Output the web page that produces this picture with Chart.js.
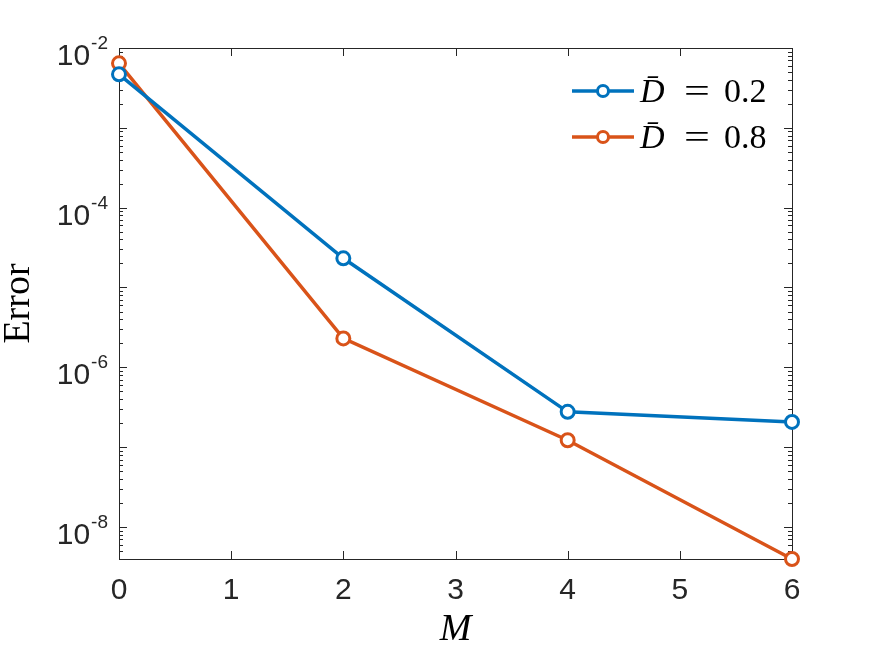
<!DOCTYPE html>
<html>
<head>
<meta charset="utf-8">
<script src="https://cdn.jsdelivr.net/npm/chart.js@4/dist/chart.umd.min.js"></script>
<style>
  html, body { margin: 0; padding: 0; background: #ffffff; }
  canvas { display: block; }
</style>
</head>
<body>
<canvas id="c" width="875" height="657"></canvas>
<script>
// ---- data ----
const xValues = [0, 2, 4, 6];
const errD02 = [4.68e-3, 2.32e-5, 2.77e-7, 2.07e-7];
const errD08 = [6.43e-3, 2.30e-6, 1.22e-7, 3.97e-9];
const seriesLabels = ['D\u0304 = 0.2', 'D\u0304 = 0.8'];
const seriesColors = ['#0072BD', '#D95319'];
const xTickValues = [0, 1, 2, 3, 4, 5, 6];
const yMajorExponents = [-2, -4, -6, -8];
const xTitle = 'M';
const yTitle = 'Error';

const AX = '#262626';
const yMin = Math.min(...errD02, ...errD08);
const yMax = 1e-2;

function mkSet(label, values, color) {
  return {
    label: label,
    data: xValues.map((x, i) => ({ x: x, y: values[i] })),
    borderColor: color,
    backgroundColor: color,
    borderWidth: 3.5,
    pointRadius: 6.5,
    pointHoverRadius: 6.5,
    pointBorderWidth: 3,
    pointBorderColor: color,
    pointBackgroundColor: '#ffffff',
    tension: 0,
    clip: false
  };
}

const axesPlugin = {
  id: 'matlabAxes',
  beforeDatasetsDraw(chart) {
    const { ctx, chartArea: ca, scales: { x, y } } = chart;
    ctx.save();
    ctx.strokeStyle = AX;
    ctx.lineWidth = 1;
    // frame
    ctx.strokeRect(Math.round(ca.left) + 0.5, Math.round(ca.top) + 0.5,
                   Math.round(ca.right - ca.left), Math.round(ca.bottom - ca.top));
    ctx.beginPath();
    // x ticks (inward, bottom and top)
    xTickValues.forEach(v => {
      const px = Math.round(x.getPixelForValue(v)) + 0.5;
      ctx.moveTo(px, ca.bottom); ctx.lineTo(px, ca.bottom - 8);
      ctx.moveTo(px, ca.top); ctx.lineTo(px, ca.top + 8);
    });
    // y ticks (log: decades + minor)
    const kLo = Math.floor(Math.log10(y.min)), kHi = Math.ceil(Math.log10(y.max));
    for (let k = kLo; k <= kHi; k++) {
      for (let n = 1; n <= 9; n++) {
        const v = n * Math.pow(10, k);
        if (v < y.min * 0.999 || v > y.max * 1.001) continue;
        const py = Math.round(y.getPixelForValue(v)) + 0.5;
        const len = n === 1 ? 8 : 4;
        ctx.moveTo(ca.left, py); ctx.lineTo(ca.left + len, py);
        ctx.moveTo(ca.right, py); ctx.lineTo(ca.right - len, py);
      }
    }
    ctx.stroke();
    // y tick labels 10^e
    ctx.fillStyle = AX;
    ctx.textBaseline = 'alphabetic';
    yMajorExponents.forEach(e => {
      const py = y.getPixelForValue(Math.pow(10, e));
      const sup = String(e);
      ctx.font = '19px "Liberation Sans", Arial, sans-serif';
      const ws = ctx.measureText(sup).width;
      const supLeft = ca.left - 11 - ws;
      ctx.textAlign = 'left';
      ctx.fillText(sup, supLeft, py + 1);
      ctx.font = '30px "Liberation Sans", Arial, sans-serif';
      ctx.textAlign = 'right';
      ctx.fillText('10', supLeft - 1, py + 17);
    });
    ctx.restore();
  },
  afterDatasetsDraw(chart) {
    const { ctx, chartArea: ca } = chart;
    ctx.save();
    const x0 = ca.right - 220, x1 = ca.right - 158;
    const rows = [ca.top + 43, ca.top + 89];
    chart.data.datasets.forEach((ds, i) => {
      const yy = rows[i];
      ctx.strokeStyle = ds.borderColor;
      ctx.lineWidth = 3.5;
      ctx.beginPath(); ctx.moveTo(x0, yy); ctx.lineTo(x1, yy); ctx.stroke();
      ctx.beginPath(); ctx.arc((x0 + x1) / 2, yy, 5.5, 0, Math.PI * 2);
      ctx.fillStyle = '#ffffff'; ctx.fill();
      ctx.lineWidth = 3; ctx.stroke();
      ctx.fillStyle = '#000000';
      ctx.textBaseline = 'alphabetic';
      ctx.textAlign = 'left';
      const parts = ds.label.split(' ');
      ctx.font = 'italic 34px "Liberation Serif", "Times New Roman", serif';
      ctx.fillText(parts[0], x1 + 6, yy + 11);
      ctx.font = '34px "Liberation Serif", "Times New Roman", serif';
      ctx.save();
      ctx.translate(x1 + 50, yy + 11);
      ctx.scale(1.35, 1);
      ctx.fillText(parts[1], 0, 0);
      ctx.restore();
      ctx.fillText(parts[2], x1 + 90, yy + 11);
    });
    ctx.restore();
  }
};

new Chart(document.getElementById('c'), {
  type: 'line',
  data: {
    datasets: [
      mkSet(seriesLabels[0], errD02, seriesColors[0]),
      mkSet(seriesLabels[1], errD08, seriesColors[1])
    ]
  },
  options: {
    responsive: false,
    animation: false,
    events: [],
    layout: { padding: { top: 48, right: 83, left: 0, bottom: 0 } },
    plugins: { legend: { display: false }, tooltip: { enabled: false } },
    scales: {
      x: {
        type: 'linear',
        min: 0, max: 6,
        afterFit(s) { s.height = 98; },
        afterBuildTicks(s) { s.ticks = xTickValues.map(v => ({ value: v })); },
        grid: { display: false, drawTicks: false },
        border: { display: false },
        ticks: {
          color: AX,
          padding: 14,
          maxRotation: 0,
          font: { family: '"Liberation Sans", Arial, sans-serif', size: 30 }
        },
        title: {
          display: true, text: xTitle, color: '#000000',
          font: { family: '"Liberation Serif", "Times New Roman", serif', size: 38, style: 'italic', lineHeight: 1 },
          padding: { top: 0, bottom: 8 }
        }
      },
      y: {
        type: 'logarithmic',
        min: yMin, max: yMax,
        afterFit(s) { s.width = 119; },
        grid: { display: false, drawTicks: false },
        border: { display: false },
        ticks: { display: false },
        title: {
          display: true, text: yTitle, color: '#000000',
          font: { family: '"Liberation Serif", "Times New Roman", serif', size: 38, lineHeight: 1 },
          padding: { top: 0, bottom: 0 }
        }
      }
    }
  },
  plugins: [axesPlugin]
});
</script>
</body>
</html>
